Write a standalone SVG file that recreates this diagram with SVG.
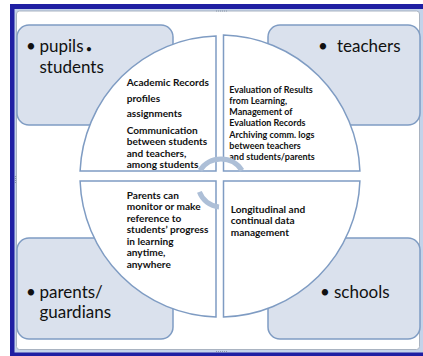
<svg xmlns="http://www.w3.org/2000/svg" width="423" height="356" viewBox="0 0 423 356">
  <defs>
    <style>
      .box { fill: #dae1ed; stroke: #7f9cc3; stroke-width: 1.5; }
      .quad { fill: #ffffff; stroke: #7f9cc3; stroke-width: 1.5; }
      .big { font-family: Lato, "Liberation Sans", sans-serif; font-size: 17px; fill: #111111; }
      .small { font-family: Lato, "Liberation Sans", sans-serif; font-weight: bold; font-size: 10.1px; fill: #111111; }
      .tiny { font-family: Lato, "Liberation Sans", sans-serif; font-weight: bold; font-size: 9px; fill: #111111; }
      .cycle { fill: none; stroke: #adbfd7; stroke-width: 5; }
      .handle { fill: none; stroke: #8a98aa; stroke-width: 1; stroke-dasharray: 1 1; }
    </style>
  </defs>

  <!-- window frame -->
  <g id="frame">
    <rect x="0" y="0" width="423" height="356" fill="#ffffff"/>
    <rect x="10" y="4" width="413" height="352" fill="#1f1fa3"/>
    <rect x="14.5" y="9" width="408.5" height="343.5" fill="#c3d3ea"/>
    <rect x="16.5" y="11" width="403" height="338.5" rx="3" fill="#ffffff" stroke="#a9b3c1" stroke-width="1"/>
    <line class="handle" x1="216" y1="11" x2="227" y2="11"/>
    <line class="handle" x1="15.5" y1="176" x2="15.5" y2="184"/>
    <line class="handle" x1="216" y1="351.5" x2="227" y2="351.5"/>
  </g>

  <!-- corner boxes -->
  <g id="node-pupils">
    <rect class="box" x="17" y="25" width="156" height="100" rx="12"/>
    <text class="big" x="31" y="52" text-anchor="middle">•</text>
    <text class="big" x="39.5" y="52">pupils</text>
    <text class="big" x="89" y="53" text-anchor="middle" style="font-size:11px">•</text>
    <text class="big" x="39.5" y="72.5">students</text>
  </g>
  <g id="node-teachers">
    <rect class="box" x="268" y="25" width="152" height="100" rx="12"/>
    <text class="big" x="323" y="52" text-anchor="middle">•</text>
    <text class="big" x="337" y="52">teachers</text>
  </g>
  <g id="node-parents">
    <rect class="box" x="17" y="238" width="156" height="101" rx="12"/>
    <text class="big" x="31" y="298" text-anchor="middle">•</text>
    <text class="big" x="39.5" y="298">parents/</text>
    <text class="big" x="39.5" y="318">guardians</text>
  </g>
  <g id="node-schools">
    <rect class="box" x="268" y="238" width="152" height="101" rx="12"/>
    <text class="big" x="325" y="298" text-anchor="middle">•</text>
    <text class="big" x="334" y="298">schools</text>
  </g>

  <!-- circle quadrants -->
  <g id="quad-students">
    <path class="quad" d="M216 171 L80.09 171 A140 141 0 0 1 216 36.06 Z"/>
    <text class="small" x="126.7" y="86">Academic Records</text>
    <text class="small" x="126.7" y="101.5">profiles</text>
    <text class="small" x="126.7" y="117">assignments</text>
    <text class="small" x="126.7" y="134">Communication</text>
    <text class="small" x="126.7" y="145.3">between students</text>
    <text class="small" x="126.7" y="156.6">and teachers,</text>
    <text class="small" x="126.7" y="167.9">among students</text>
  </g>
  <g id="quad-teachers">
    <path class="quad" d="M223.5 171 L223.5 35.04 A140 141 0 0 1 359.91 171 Z"/>
    <text class="tiny" x="229.3" y="93">Evaluation of Results</text>
    <text class="tiny" x="229.3" y="104">from Learning,</text>
    <text class="tiny" x="229.3" y="115">Management of</text>
    <text class="tiny" x="229.3" y="125.5">Evaluation Records</text>
    <text class="tiny" x="229.3" y="138">Archiving comm. logs</text>
    <text class="tiny" x="229.3" y="149">between teachers</text>
    <text class="tiny" x="229.3" y="160">and students/parents</text>
  </g>
  <g id="quad-parents">
    <path class="quad" d="M216 181 L216 316.94 A140 141 0 0 1 80.09 181 Z"/>
    <text class="small" x="126.7" y="198.5">Parents can</text>
    <text class="small" x="126.7" y="210">monitor or make</text>
    <text class="small" x="126.7" y="221.5">reference to</text>
    <text class="small" x="126.7" y="233">students’ progress</text>
    <text class="small" x="126.7" y="244.5">in learning</text>
    <text class="small" x="126.7" y="256">anytime,</text>
    <text class="small" x="126.7" y="267.5">anywhere</text>
  </g>
  <g id="quad-schools">
    <path class="quad" d="M223.5 181 L359.91 181 A140 141 0 0 1 223.5 316.96 Z"/>
    <text class="small" x="230.7" y="212.7">Longitudinal and</text>
    <text class="small" x="230.7" y="224.4">continual data</text>
    <text class="small" x="230.7" y="236.1">management</text>
  </g>

  <!-- central cycle arcs -->
  <g id="connectors">
    <path class="cycle" d="M200.03 170.38 A25 25 0 0 1 241.97 170.38"/>
    <path class="cycle" d="M199.4 191.9 A23 23 0 0 0 219 206.9"/>
  </g>
</svg>
